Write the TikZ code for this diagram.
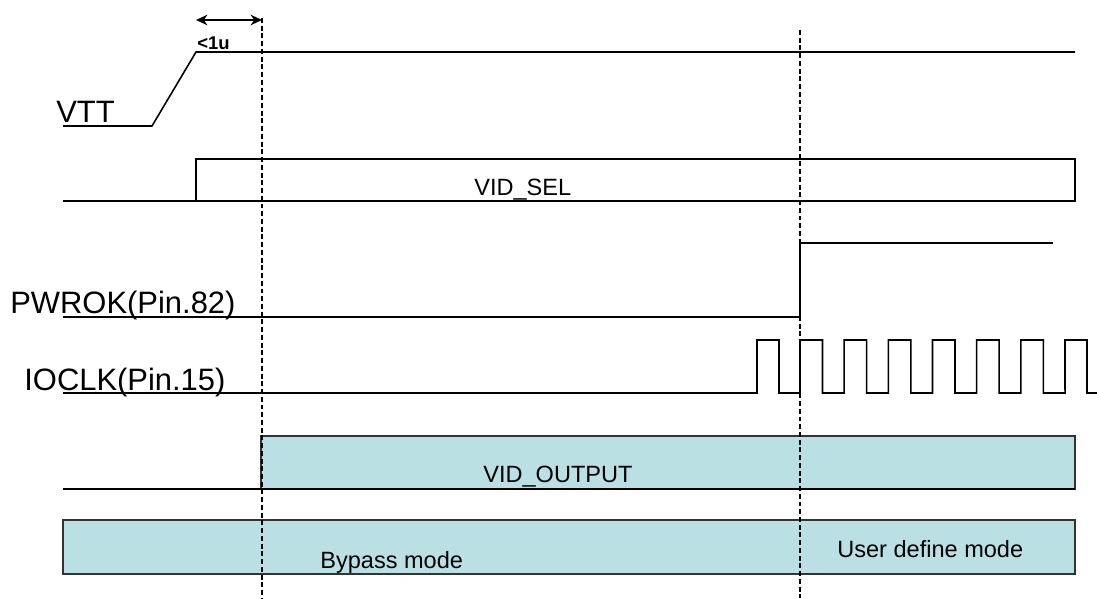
\documentclass[tikz,border=0pt]{standalone}
\usepackage{fontspec}
\setmainfont{Liberation Sans}
\usepackage{tikz}
\usetikzlibrary{arrows.meta}

\definecolor{boxfill}{RGB}{187,224,227}

\begin{document}
\begin{tikzpicture}[
            x=0.02cm, y=-0.02cm,
            >={Stealth[length=6.5pt, width=6pt]},
            sig/.style={line width=0.9pt},
            guide/.style={line width=1.2pt, dash pattern=on 2.8pt off 1.6pt},
            big/.style={inner sep=0, anchor=base west, font=\fontsize{17.6}{20}\selectfont},
            small/.style={inner sep=0, anchor=base west, font=\fontsize{13.4}{16}\selectfont},
            busbox/.style={draw=black!80, line width=0.9pt, fill=boxfill}
        ]
            \useasboundingbox (0,0) rectangle (1097,598);

            % mode bar and VID_OUTPUT bus
            \draw[busbox] (63,520) rectangle (1075,574);
            \draw[busbox] (261,489) -- (261,436) -- (1075,436) -- (1075,489) -- cycle;
            \draw[sig] (63,489) -- (1075,489);

            % VTT
            \draw[sig] (63,126) -- (152,126) -- (196,52) -- (1075,52);
            % VID_SEL
            \draw[sig] (63,201) -- (1075,201) -- (1075,159) -- (196,159) -- (196,201);
            % PWROK
            \draw[sig] (63,317) -- (800,317) -- (800,243) -- (1053,243);
            % IOCLK
            \draw[sig] (63,393) -- (757,393) -- (757,340) -- (779,340) -- (779,393) -- (800,393)
                \foreach \k in {0,...,5} {
                    -- ({800+44.17*\k},340) -- ({822.5+44.17*\k},340)
                    -- ({822.5+44.17*\k},393) -- ({844.17+44.17*\k},393)
                }
                -- (1065,340) -- (1087,340) -- (1087,393) -- (1097,393);

            % guide lines
            \coordinate (g1top) at (262,18);
            \coordinate (g1bot) at (262,598);
            \coordinate (g2top) at (800,30);
            \coordinate (g2bot) at (800,598);
            \draw[guide] (g1top) -- (g1bot);
            \draw[guide] (g2top) -- (g2bot);

            \coordinate (rise) at (196,20);
            \draw[<->, line width=1.5pt] (rise) -- (g1top |- rise);

            \node[inner sep=0, anchor=base west, font=\bfseries\fontsize{10.5}{12}\selectfont] (delay) at (197,50) {<1u};
            \node[big] (vtt) at (56,122) {VTT};
            \node[big] (pwrok) at (10,313) {PWROK(Pin.82)};
            \node[big] (ioclk) at (24,390) {IOCLK(Pin.15)};
            \node[small] (vidsel) at (474,195) {VID\_SEL};
            \node[small] (vidout) at (483,482) {VID\_OUTPUT};
            \node[small] (bypass) at (320,568) {Bypass mode};
            \node[small] (user) at (837,557) {User define mode};
        \end{tikzpicture}
\end{document}
